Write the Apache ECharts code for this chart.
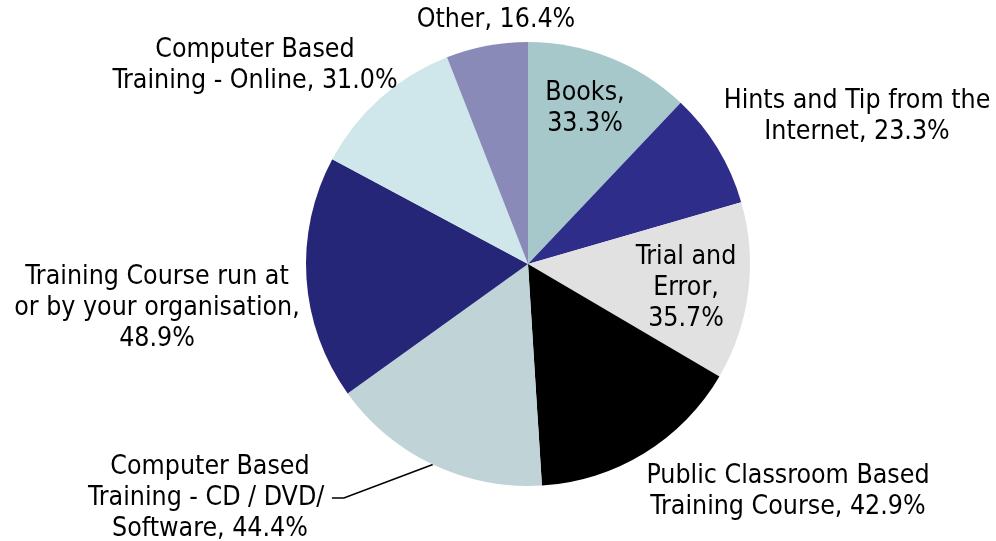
<!DOCTYPE html>
<html>
<head>
<meta charset="utf-8">
<script src="https://cdn.jsdelivr.net/npm/echarts@6/dist/echarts.min.js"></script>
<style>
html,body{margin:0;padding:0;background:#fff;}
#chart{width:996px;height:541px;}
</style>
</head>
<body>
<div id="chart"></div>
<script>
var names = ['Books', 'Hints and Tip from the\nInternet', 'Trial and\nError', 'Public Classroom Based\nTraining Course',
    'Computer Based\nTraining - CD / DVD/ \nSoftware', 'Training Course run at\nor by your organisation,\n', 'Computer Based\nTraining - Online', 'Other'];
var values = [33.3, 23.3, 35.7, 42.9, 44.4, 48.9, 31.0, 16.4];
var colors = ['#a6c8ca', '#2e2e8a', '#e1e1e1', '#000000', '#c0d3d6', '#262679', '#cfe6ea', '#8a8ab8'];
// label anchor points (text block centres)
var labelPos = [[585, 109], [857, 117], [686, 288], [788, 492], [210, 498], [157, 308], [255, 66], [496, 20]];

var chart = echarts.init(document.getElementById('chart'));
var data = [];
for (var i = 0; i < values.length; i++) {
    var sep = (i === 0 || i === 2) ? ',\n' : (i === 5 ? '' : ', ');
    data.push({
        name: names[i],
        value: values[i],
        itemStyle: {color: colors[i]},
        label: {formatter: names[i] + sep + values[i].toFixed(1) + '%'},
        labelLine: {show: i === 4}
    });
}
var option = {
    animation: false,
    series: [{
        type: 'pie',
        center: [528, 264],
        radius: 222,
        startAngle: 90,
        clockwise: true,
        avoidLabelOverlap: false,
        label: {
            show: true,
            position: 'outside',
            color: '#000',
            fontFamily: 'DejaVu Sans Condensed',
            fontSize: 26.5,
            lineHeight: 31,
            align: 'center'
        },
        labelLine: {
            show: false,
            length: 10,
            length2: 12,
            lineStyle: {color: '#000', width: 1.5}
        },
        labelLayout: function (p) {
            var pos = labelPos[p.dataIndex];
            return {x: pos[0], y: pos[1], align: 'center', verticalAlign: 'middle', hideOverlap: false};
        },
        data: data
    }]
};
chart.setOption(option);
</script>
</body>
</html>
